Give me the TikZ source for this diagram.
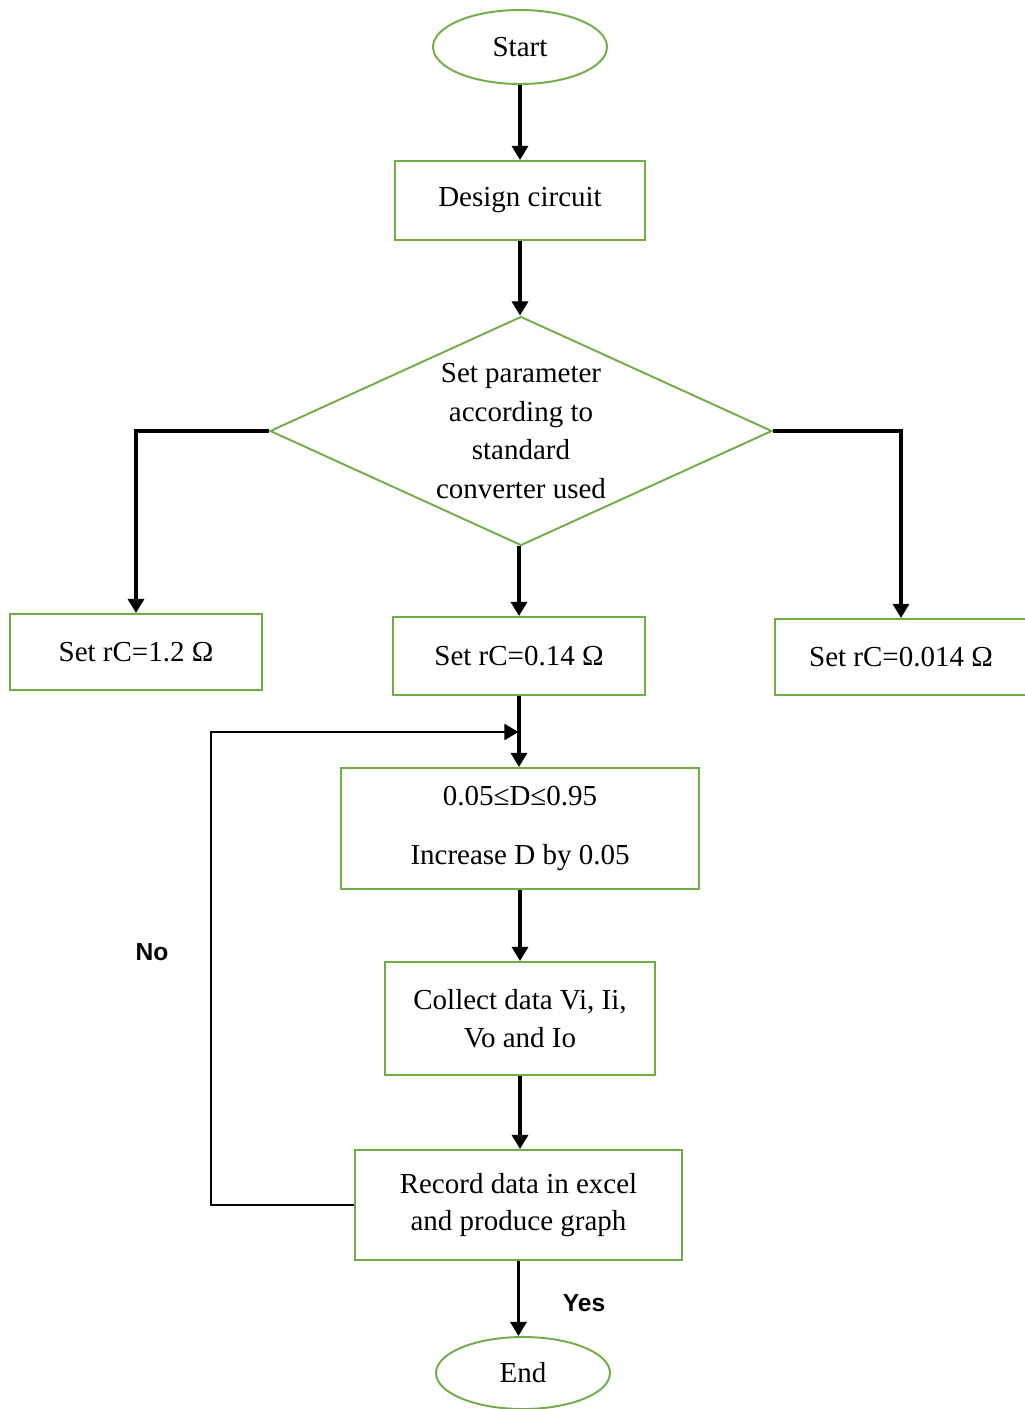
\documentclass[tikz,border=0pt]{standalone}
\usepackage{fontspec}
\setmainfont{Liberation Serif}
\newfontfamily\tagfont{Liberation Sans}
\usetikzlibrary{shapes.geometric,arrows.meta}
\definecolor{boxgreen}{RGB}{112,173,71}
\tikzset{
  terminal/.style={ellipse, draw=boxgreen, line width=1.1pt, inner sep=0pt,
    minimum width=3.48cm, minimum height=1.48cm, font=\fontsize{16.5}{22}\selectfont},
  process/.style={rectangle, draw=boxgreen, line width=1.1pt, align=center,
    inner sep=0pt, font=\fontsize{16.5}{22}\selectfont},
  decision/.style={diamond, draw=boxgreen, line width=1.1pt, align=center,
    inner sep=0pt, aspect=2.19, minimum width=10.04cm, minimum height=4.58cm,
    font=\fontsize{16.5}{22}\selectfont},
  flow/.style={line width=2.1pt, -{Triangle[length=8pt,width=9pt]}},
  loopline/.style={line width=1.4pt, -{Triangle[length=8pt,width=9pt]}},
  tag/.style={font=\tagfont\bfseries\fontsize{14}{16}\selectfont}
}
\begin{document}
\begin{tikzpicture}
    \useasboundingbox (0,0) rectangle (20.48,-28.18);

    % Main column
    \node[terminal] (start) at (10.40,-0.94) {Start};
    \node[process, minimum width=5.0cm, minimum height=1.58cm] (design) at (10.40,-4.01) {Design circuit};
    \node[decision] (setparam) at (10.42,-8.62) {Set parameter\\according to\\standard\\converter used};

    % Three capacitor resistances
    \node[process, minimum width=5.04cm, minimum height=1.52cm] (rcleft) at (2.72,-13.04) {Set rC=1.2 Ω};
    \node[process, minimum width=5.04cm, minimum height=1.56cm] (rcmid) at (10.38,-13.12) {Set rC=0.14 Ω};
    \node[process, minimum width=5.04cm, minimum height=1.52cm] (rcright) at (18.02,-13.14) {Set rC=0.014 Ω};

    % Duty cycle sweep
    \node[process, minimum width=7.16cm, minimum height=2.42cm] (duty) at (10.40,-16.57) {0.05≤D≤0.95\\[12pt]Increase D by 0.05};
    \node[process, minimum width=5.40cm, minimum height=2.26cm] (collect) at (10.40,-20.37) {Collect data Vi, Ii,\\Vo and Io};
    \node[process, minimum width=6.54cm, minimum height=2.20cm] (record) at (10.37,-24.10) {Record data in excel\\[-1pt]and produce graph};
    \node[terminal, minimum height=1.44cm] (finish) at (10.46,-27.46) {End};

    % Connectors
    \draw[flow] (start) -- (design);
    \draw[flow] (design.south) -- (design.south |- setparam.north);
    \draw[flow] (setparam.west) -| (rcleft.north);
    \draw[flow] (setparam.east) -| (rcright.north);
    \draw[flow] (setparam.south -| rcmid.north) -- (rcmid.north);
    \draw[flow] (rcmid.south) -- (rcmid.south |- duty.north);
    \draw[flow] (duty) -- (collect);
    \draw[flow] (collect) -- (collect |- record.north);
    \draw[flow] (record.south) -- (record.south |- finish.north);

    % Loop back
    \coordinate (loopcorner) at (4.22,-24.10);
    \coordinate (loopin) at (10.37,-14.64);
    \draw[loopline] (record.west) -- (loopcorner) |- (loopin);

    \node[tag] (nolabel) at (3.04,-19.04) {No};
    \node[tag] (yeslabel) at (11.68,-26.06) {Yes};
\end{tikzpicture}
\end{document}
